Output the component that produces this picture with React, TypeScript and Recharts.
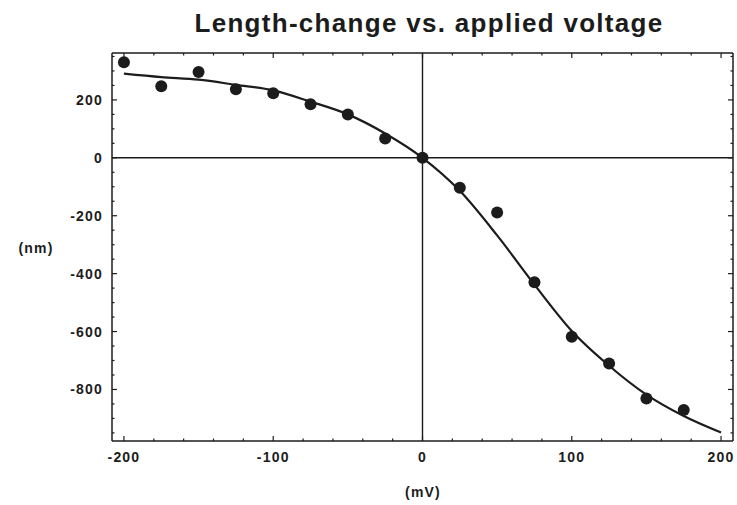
import React from "react";
import {
  ComposedChart,
  Line,
  Scatter,
  XAxis,
  YAxis,
  ReferenceLine,
} from "recharts";

// measured points
const voltage = [-200, -175, -150, -125, -100, -75, -50, -25, 0, 25, 50, 75, 100, 125, 150, 175];
const lengthChange = [330, 247, 296, 237, 223, 185, 150, 67, 0, -103, -189, -430, -618, -710, -831, -871];

// fitted curve
const fitVoltage = [-200, -175, -150, -125, -100, -75, -50, -25, 0, 25, 50, 75, 100, 125, 150, 175, 200];
const fitLength = [291, 279, 270, 252, 233, 194, 150, 84, 0, -114, -268, -438, -598, -718, -818, -892, -949];

const xMajor = [-200, -100, 0, 100, 200];
const xTicks = [-200, -180, -160, -140, -120, -100, -80, -60, -40, -20, 0, 20, 40, 60, 80, 100, 120, 140, 160, 180, 200];
const yMajor = [200, 0, -200, -400, -600, -800];
const yTicks = [350, 300, 250, 200, 150, 100, 50, 0, -50, -100, -150, -200, -250, -300, -350, -400, -450, -500, -550, -600, -650, -700, -750, -800, -850, -900, -950];

const points = voltage.map((v, i) => ({ x: v, y: lengthChange[i] }));
const fit = fitVoltage.map((v, i) => ({ x: v, y: fitLength[i] }));

const INK = "#1c1c1c";
const FONT = "'Liberation Sans', Arial, sans-serif";

const labelStyle = {
  fontFamily: FONT,
  fontSize: 14,
  fontWeight: 700,
  letterSpacing: 1.2,
  fill: INK,
};

function BottomTick(props: any) {
  const { x, y, payload } = props;
  const major = xMajor.includes(payload.value);
  return (
    <g>
      <line x1={x} y1={y} x2={x} y2={y - (major ? 5 : 2.5)} stroke={INK} strokeWidth={1.2} />
      {major && (
        <text x={x} y={y + 21} textAnchor="middle" style={labelStyle}>
          {payload.value}
        </text>
      )}
    </g>
  );
}

function TopTick(props: any) {
  const { x, y, payload } = props;
  const major = xMajor.includes(payload.value);
  return <line x1={x} y1={y} x2={x} y2={y + (major ? 5 : 2.5)} stroke={INK} strokeWidth={1.2} />;
}

function LeftTick(props: any) {
  const { x, y, payload } = props;
  const major = yMajor.includes(payload.value);
  return (
    <g>
      <line x1={x} y1={y} x2={x + (major ? 5 : 2.5)} y2={y} stroke={INK} strokeWidth={1.2} />
      {major && (
        <text x={x - 9} y={y} dy="0.36em" textAnchor="end" style={labelStyle}>
          {payload.value}
        </text>
      )}
    </g>
  );
}

function RightTick(props: any) {
  const { x, y, payload } = props;
  const major = yMajor.includes(payload.value);
  return <line x1={x} y1={y} x2={x - (major ? 5 : 2.5)} y2={y} stroke={INK} strokeWidth={1.2} />;
}

export default function App() {
  return (
    <div style={{ position: "absolute", left: 0, top: 0, width: 737, height: 505, background: "#fff" }}>
      <ComposedChart width={737} height={505} margin={{ top: 52, right: 3, bottom: 34, left: 52 }}>
        <XAxis
          xAxisId="main"
          dataKey="x"
          type="number"
          domain={[-208, 208]}
          allowDataOverflow
          ticks={xTicks}
          interval={0}
          tickSize={0}
          tickMargin={0}
          tickLine={false}
          tick={BottomTick}
          height={30}
          axisLine={{ stroke: INK, strokeWidth: 1.5 }}
        />
        <XAxis
          xAxisId="top"
          orientation="top"
          dataKey="x"
          type="number"
          domain={[-208, 208]}
          allowDataOverflow
          ticks={xTicks}
          interval={0}
          tickSize={0}
          tickMargin={0}
          tickLine={false}
          tick={TopTick}
          height={1}
          axisLine={{ stroke: INK, strokeWidth: 1.5 }}
        />
        <YAxis
          yAxisId="main"
          type="number"
          domain={[-978, 362]}
          allowDataOverflow
          ticks={yTicks}
          interval={0}
          tickSize={0}
          tickMargin={0}
          tickLine={false}
          tick={LeftTick}
          width={60}
          axisLine={{ stroke: INK, strokeWidth: 1.5 }}
        />
        <YAxis
          yAxisId="right"
          orientation="right"
          type="number"
          domain={[-978, 362]}
          allowDataOverflow
          ticks={yTicks}
          interval={0}
          tickSize={0}
          tickMargin={0}
          tickLine={false}
          tick={RightTick}
          width={1}
          axisLine={{ stroke: INK, strokeWidth: 1.5 }}
        />
        <ReferenceLine xAxisId="main" yAxisId="main" x={0} stroke={INK} strokeWidth={1.4} />
        <ReferenceLine xAxisId="main" yAxisId="main" y={0} stroke={INK} strokeWidth={1.4} />
        <Line
          xAxisId="main"
          yAxisId="main"
          data={fit}
          dataKey="y"
          type="monotone"
          stroke={INK}
          strokeWidth={2.2}
          dot={false}
          isAnimationActive={false}
        />
        <Line
          xAxisId="top"
          yAxisId="right"
          data={fit}
          dataKey="y"
          stroke="none"
          dot={false}
          legendType="none"
          isAnimationActive={false}
        />
        <Scatter
          xAxisId="main"
          yAxisId="main"
          data={points}
          dataKey="y"
          fill={INK}
          shape={(p: any) => <circle cx={p.cx} cy={p.cy} r={6} fill={INK} />}
          isAnimationActive={false}
        />
      </ComposedChart>
      <svg width={737} height={505} style={{ position: "absolute", left: 0, top: 0, pointerEvents: "none" }}>
        <text
          x={429}
          y={32}
          textAnchor="middle"
          style={{ fontFamily: FONT, fontSize: 26, fontWeight: 700, letterSpacing: 1.3, fill: INK }}
        >
          Length-change vs. applied voltage
        </text>
        <text x={36} y={253} textAnchor="middle" style={labelStyle}>
          (nm)
        </text>
        <text x={423} y={497} textAnchor="middle" style={labelStyle}>
          (mV)
        </text>
      </svg>
    </div>
  );
}
